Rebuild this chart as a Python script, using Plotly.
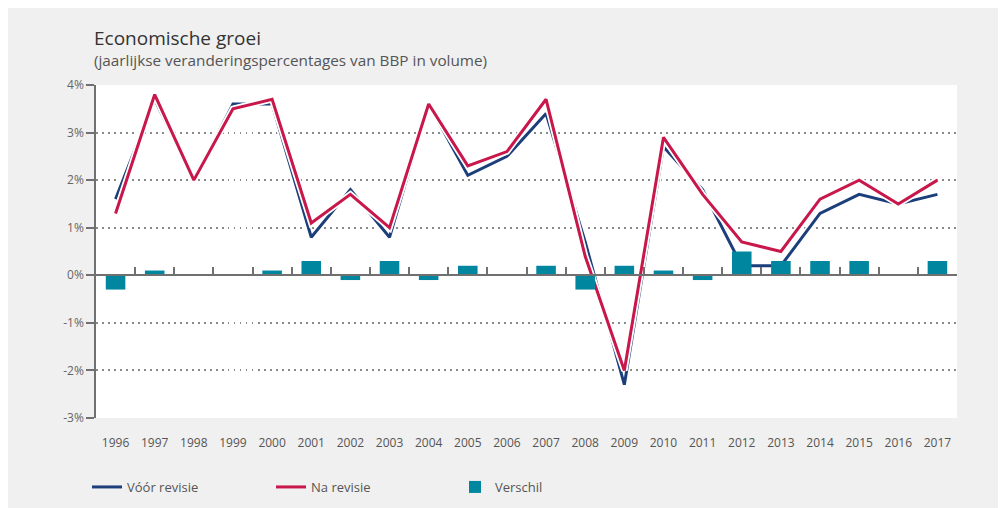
import plotly.graph_objects as go

years = [str(y) for y in range(1996, 2018)]
voor_revisie = [1.6, 3.7, 2.0, 3.6, 3.6, 0.8, 1.8, 0.8, 3.6, 2.1, 2.5, 3.4,
                0.7, -2.3, 2.7, 1.8, 0.2, 0.2, 1.3, 1.7, 1.5, 1.7]
na_revisie = [1.3, 3.8, 2.0, 3.5, 3.7, 1.1, 1.7, 1.0, 3.6, 2.3, 2.6, 3.7,
              0.4, -2.0, 2.9, 1.7, 0.7, 0.5, 1.6, 2.0, 1.5, 2.0]
verschil = [-0.3, 0.1, 0.0, 0.0, 0.1, 0.3, -0.1, 0.3, -0.1, 0.2, 0.0, 0.2,
            -0.3, 0.2, 0.1, -0.1, 0.5, 0.3, 0.3, 0.3, 0.0, 0.3]
y_tickvals = [-3, -2, -1, 0, 1, 2, 3, 4]
y_ticktext = ["-3%", "-2%", "-1%", "0%", "1%", "2%", "3%", "4%"]

BLUE = "#1c3f7c"
RED = "#c8174a"
TEAL = "#00879f"
FONT = "Open Sans"

idx = list(range(len(years)))
boundaries = [i + 0.5 for i in idx[:-1]]

fig = go.Figure()
fig.add_trace(go.Bar(x=idx, y=verschil, name="Verschil", marker_color=TEAL,
                     marker_line_width=0, width=0.5, xaxis="x2",
                     legendrank=3, hoverinfo="skip"))
fig.add_trace(go.Scatter(x=years, y=voor_revisie, mode="lines",
                         line=dict(color="white", width=6.5), showlegend=False,
                         hoverinfo="skip"))
fig.add_trace(go.Scatter(x=years, y=voor_revisie, mode="lines", name="Vóór revisie",
                         line=dict(color=BLUE, width=3), legendrank=1))
fig.add_trace(go.Scatter(x=years, y=na_revisie, mode="lines",
                         line=dict(color="white", width=6.5), showlegend=False,
                         hoverinfo="skip"))
fig.add_trace(go.Scatter(x=years, y=na_revisie, mode="lines", name="Na revisie",
                         line=dict(color=RED, width=3), legendrank=2))

# page body has an 8px margin, so figure coords = screen coords - 8
W, H = 1006, 508
L, T = 88, 77
pw, ph = 861, 333
R, B = W - L - pw, H - T - ph

zero_pos = (0 - (-3)) / (4 - (-3))

fig.update_layout(
    width=W, height=H,
    margin=dict(l=L, r=R, t=T, b=B),
    paper_bgcolor="#f0f0f0",
    plot_bgcolor="white",
    font=dict(family=FONT, color="#555555", size=12),
    showlegend=True,
    legend=dict(orientation="h", x=(79 - L) / pw, xanchor="left",
                y=-(479 - (T + ph)) / ph, yanchor="middle",
                entrywidth=139, entrywidthmode="pixels",
                font=dict(size=13, color="#555555"), bgcolor="rgba(0,0,0,0)"),
    xaxis=dict(type="category", categoryorder="array", categoryarray=years,
               range=[-0.5, 21.5], showgrid=False, showline=False, zeroline=False,
               ticks="outside", ticklen=14, tickcolor="rgba(0,0,0,0)",
               tickfont=dict(size=12, color="#555555")),
    xaxis2=dict(type="linear", overlaying="x", anchor="free", position=zero_pos,
                side="bottom", range=[-0.5, 21.5], showgrid=False, zeroline=False,
                showline=True, linecolor="#707070", linewidth=1.5,
                tickvals=boundaries, ticks="inside", ticklen=8, tickwidth=1.5,
                tickcolor="#707070", showticklabels=False),
    yaxis=dict(range=[-3, 4], tickvals=y_tickvals, ticktext=y_ticktext,
               showline=True, linecolor="#707070", linewidth=1.5,
               ticks="outside", ticklen=8, tickwidth=1.5, tickcolor="#707070",
               showgrid=True, gridcolor="#8a8a8a", gridwidth=1.5,
               griddash="1.5px,4.5px", zeroline=False,
               tickfont=dict(size=12, color="#666666")),
    annotations=[
        dict(text="Economische groei", xref="paper", yref="paper",
             x=(84 - L) / pw, y=1 + (T - 30) / ph, xanchor="left", yanchor="middle",
             showarrow=False, font=dict(size=19, color="#333333", family=FONT)),
        dict(text="(jaarlijkse veranderingspercentages van BBP in volume)",
             xref="paper", yref="paper",
             x=(84 - L) / pw, y=1 + (T - 52) / ph, xanchor="left", yanchor="middle",
             showarrow=False, font=dict(size=15.3, color="#555555", family=FONT)),
    ],
)

fig.write_html("out.html")
